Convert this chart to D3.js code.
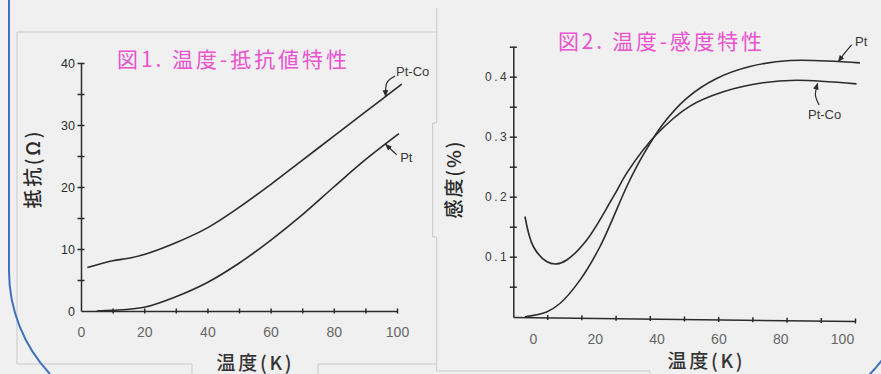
<!DOCTYPE html>
<html>
<head>
<meta charset="utf-8">
<script src="https://cdn.jsdelivr.net/npm/d3@7"></script>
<style>
  body { margin: 0; background: #f0f0f0; }
  svg { display: block; }
</style>
</head>
<body>
<svg id="chart" width="881" height="374"></svg>
<script>
// fig.1  temperature (K) vs resistance (ohm)
const ptCo1 = [[2, 7.0], [10, 8.1], [15, 8.5], [20, 9.1], [30, 11.0], [40, 13.4], [50, 16.7],
  [60, 20.4], [70, 24.3], [80, 28.2], [90, 32.1], [101.5, 36.6]];
const pt1 = [[5, 0], [10, 0.1], [20, 0.6], [30, 2.3], [40, 4.6], [50, 7.7], [60, 11.4],
  [70, 15.5], [80, 20], [90, 24.4], [100.6, 28.6]];

// fig.2  temperature (K) vs sensitivity (%)
const ptCo2 = [[-2.6, 0.167], [0.1, 0.117], [4.4, 0.092], [7.7, 0.088], [10.9, 0.0945], [17.4, 0.128],
  [26, 0.2], [30.8, 0.243], [40, 0.304], [50.8, 0.351], [61.6, 0.375], [74.5, 0.39], [85.3, 0.394], [104.7, 0.388]];
const pt2 = [[-2.6, 0], [4.4, 0.008], [8.7, 0.022], [15.2, 0.061], [21.7, 0.117], [30.8, 0.222], [35.7, 0.27],
  [42.2, 0.322], [49.7, 0.364], [59.4, 0.397], [70.2, 0.417], [83.2, 0.427], [105.8, 0.423]];

const xTicks = [0, 20, 40, 60, 80, 100];
const yTicks1 = [0, 10, 20, 30, 40];
const yTicks2 = [0.1, 0.2, 0.3, 0.4];

// annotation arrows: tail, bend, tip (data units) and label anchor
const notes1 = [
  {label: "Pt-Co", at: [99.7, 38.7], arrow: [[99.4, 37.9], [96.8, 36.8], [96.4, 34.6]]},
  {label: "Pt", at: [101, 24.8], arrow: [[99.9, 25.2], [98.2, 26.0], [96.4, 26.9]]}
];
const notes2 = [
  {label: "Pt", at: [104.2, 0.458], arrow: [[103.1, 0.453], [101, 0.44], [98.8, 0.425]]},
  {label: "Pt-Co", at: [89, 0.337], arrow: [[92.6, 0.353], [91.4, 0.3695], [92.1, 0.389]]}
];

const svg = d3.select("#chart");
const ink = "#2b2b2b";
const numFont = "'Liberation Sans', Arial, sans-serif";
const jpFont = "'Noto Sans CJK JP', 'Noto Sans', sans-serif";

svg.append("defs").append("marker")
  .attr("id", "head")
  .attr("viewBox", "0 0 10 10")
  .attr("refX", 9).attr("refY", 5)
  .attr("markerWidth", 7).attr("markerHeight", 7)
  .attr("markerUnits", "userSpaceOnUse")
  .attr("orient", "auto")
  .append("path")
  .attr("d", "M0,1L10,5L0,9Z")
  .attr("fill", ink);

// scanned page frame lines
svg.append("path")
  .attr("d", "M17,364V32H436.7M436.7,8V123H432.7V237H436.7V371H650V374M17,364H192V374M318,374V364H436.7")
  .attr("fill", "none").attr("stroke", "#c9c9c9").attr("stroke-width", 1);

// blue border of the screenshot
svg.append("path")
  .attr("d", "M9,0V271A150,150 0 0 0 50,374")
  .attr("fill", "none").attr("stroke", "#3d72bd").attr("stroke-width", 2);
svg.append("path")
  .attr("d", "M869,375Q876,368 882,360")
  .attr("fill", "none").attr("stroke", "#3d72bd").attr("stroke-width", 2);

function styleAxis(g) {
  g.select(".domain").attr("stroke", ink).attr("stroke-width", 1.5);
  g.selectAll(".tick line").attr("stroke", ink).attr("stroke-width", 1.5);
}

function drawNotes(notes, x, y) {
  const arc = d3.line().x(d => x(d[0])).y(d => y(d[1])).curve(d3.curveNatural);
  notes.forEach(n => {
    svg.append("path")
      .attr("d", arc(n.arrow))
      .attr("fill", "none")
      .attr("stroke", ink)
      .attr("stroke-width", 1.2)
      .attr("marker-end", "url(#head)");
    svg.append("text")
      .attr("x", x(n.at[0]))
      .attr("y", y(n.at[1]))
      .attr("dy", "0.35em")
      .attr("font-family", numFont)
      .attr("font-size", 13)
      .attr("fill", "#3a3a3a")
      .text(n.label);
  });
}

// ---------- fig.1 ----------
const x1 = d3.scaleLinear().domain([0, 100]).range([81, 397]);
const y1 = d3.scaleLinear().domain([0, 40]).range([311, 63]);

svg.append("g")
  .attr("transform", "translate(0,311)")
  .call(d3.axisBottom(x1).tickValues(d3.range(10, 101, 10)).tickSize(0).tickFormat(""))
  .call(g => g.selectAll(".tick line").attr("y1", -2.5).attr("y2", 2.5))
  .call(styleAxis);

svg.append("g")
  .attr("transform", "translate(0,311)")
  .call(d3.axisBottom(x1).tickValues(xTicks).tickSize(0).tickPadding(16))
  .call(g => g.select(".domain").remove())
  .call(g => g.selectAll("text").attr("font-family", numFont).attr("font-size", 14).attr("fill", "#666"));

svg.append("g")
  .attr("transform", "translate(81,0)")
  .call(d3.axisLeft(y1).tickValues(d3.range(5, 41, 5)).tickSize(0).tickFormat(""))
  .call(g => g.selectAll(".tick line").attr("x1", -3.5).attr("x2", 3.5))
  .call(styleAxis);

svg.append("g")
  .attr("transform", "translate(81,0)")
  .call(d3.axisLeft(y1).tickValues(yTicks1).tickSize(0).tickPadding(6))
  .call(g => g.select(".domain").remove())
  .call(g => g.selectAll("text").attr("font-family", numFont).attr("font-size", 12.5).attr("fill", "#2e2e2e"));

const line1 = d3.line().x(d => x1(d[0])).y(d => y1(d[1])).curve(d3.curveCatmullRom.alpha(0.5));
[ptCo1, pt1].forEach(s => {
  svg.append("path").attr("d", line1(s))
    .attr("fill", "none").attr("stroke", ink).attr("stroke-width", 1.6);
});
drawNotes(notes1, x1, y1);

svg.append("text")
  .attr("x", 117).attr("y", 66.5)
  .attr("textLength", 230).attr("lengthAdjust", "spacing")
  .attr("font-family", jpFont).attr("font-size", 21)
  .attr("fill", "#ea52cf")
  .text("図1. 温度-抵抗値特性");

svg.append("text")
  .attr("x", 254).attr("y", 369.5)
  .attr("text-anchor", "middle")
  .attr("textLength", 75).attr("lengthAdjust", "spacing")
  .attr("font-family", jpFont).attr("font-size", 19).attr("font-weight", 500)
  .attr("fill", "#333")
  .text("温度(K)");

svg.append("text")
  .attr("transform", "translate(40,170) rotate(-90)")
  .attr("text-anchor", "middle")
  .attr("textLength", 77).attr("lengthAdjust", "spacing")
  .attr("font-family", jpFont).attr("font-size", 19).attr("font-weight", 500)
  .attr("fill", "#2a2a2a")
  .text("抵抗(Ω)");

// ---------- fig.2 ----------
const x2 = d3.scaleLinear().domain([0, 100]).range([533, 842]);
const x2t = d3.scaleLinear().domain([0, 100]).range([513, 855]);
const y2 = d3.scaleLinear().domain([0, 0.45]).range([316.7, 46.7]);

svg.append("g")
  .attr("transform", "translate(0,317) rotate(0.67,513,0)")
  .call(d3.axisBottom(x2t).tickValues(d3.range(10, 101, 10)).tickSize(0).tickFormat(""))
  .call(g => g.selectAll(".tick line").attr("y1", -2.5).attr("y2", 2.5))
  .call(styleAxis);

svg.append("g")
  .attr("transform", "translate(0,317)")
  .call(d3.axisBottom(x2).tickValues(xTicks).tickSize(0).tickPadding(17))
  .call(g => g.select(".domain").remove())
  .call(g => g.selectAll("text").attr("font-family", numFont).attr("font-size", 14).attr("fill", "#666"));

svg.append("g")
  .attr("transform", "translate(513.3,0)")
  .call(d3.axisLeft(y2).tickValues(d3.range(1, 10).map(i => i * 0.05)).tickSize(0).tickFormat(""))
  .call(g => g.selectAll(".tick line").attr("x1", -3.5).attr("x2", 3.5))
  .call(styleAxis);

svg.append("g")
  .attr("transform", "translate(513.3,0)")
  .call(d3.axisLeft(y2).tickValues(yTicks2).tickSize(0).tickPadding(4).tickFormat(d3.format(".1f")))
  .call(g => g.select(".domain").remove())
  .call(g => g.selectAll("text").attr("font-family", numFont).attr("font-size", 12)
    .attr("letter-spacing", "2.5px").attr("fill", "#3a3a3a"));

const line2 = d3.line().x(d => x2(d[0])).y(d => y2(d[1])).curve(d3.curveCatmullRom.alpha(0.5));
[ptCo2, pt2].forEach(s => {
  svg.append("path").attr("d", line2(s))
    .attr("fill", "none").attr("stroke", ink).attr("stroke-width", 1.6);
});
drawNotes(notes2, x2, y2);

svg.append("text")
  .attr("x", 558).attr("y", 48.5)
  .attr("textLength", 204).attr("lengthAdjust", "spacing")
  .attr("font-family", jpFont).attr("font-size", 21)
  .attr("fill", "#ea52cf")
  .text("図2. 温度-感度特性");

svg.append("text")
  .attr("x", 705).attr("y", 368)
  .attr("text-anchor", "middle")
  .attr("textLength", 75).attr("lengthAdjust", "spacing")
  .attr("font-family", jpFont).attr("font-size", 19).attr("font-weight", 500)
  .attr("fill", "#333")
  .text("温度(K)");

svg.append("text")
  .attr("transform", "translate(461,180) rotate(-90)")
  .attr("text-anchor", "middle")
  .attr("textLength", 77).attr("lengthAdjust", "spacing")
  .attr("font-family", jpFont).attr("font-size", 19).attr("font-weight", 500)
  .attr("fill", "#2a2a2a")
  .text("感度(%)");
</script>
</body>
</html>
